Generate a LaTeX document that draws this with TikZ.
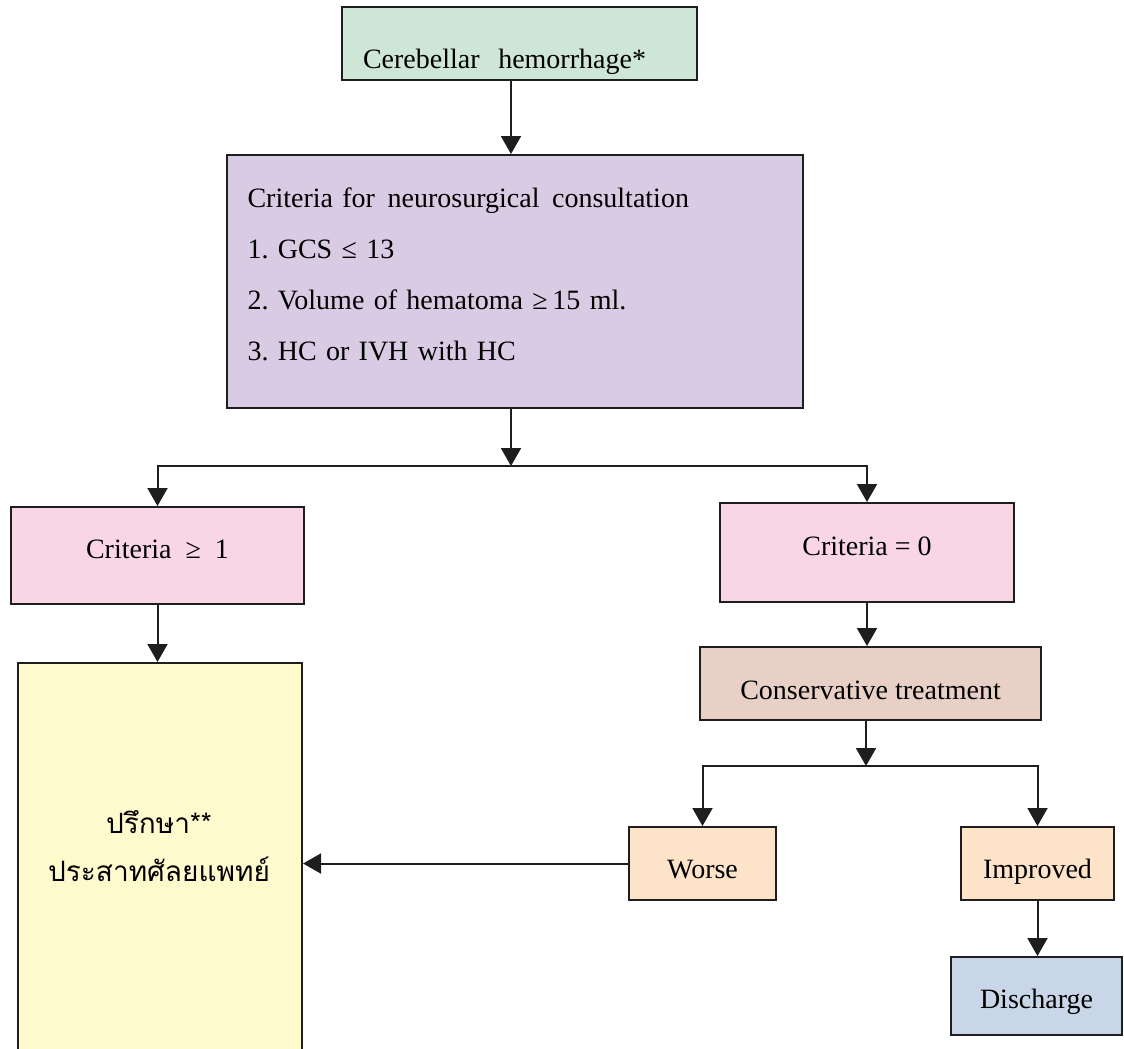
\documentclass[tikz,border=0pt]{standalone}
\usepackage{fontspec}
\setmainfont{Liberation Serif}
\newfontfamily\thaifont[Script=Thai]{Loma}
\usetikzlibrary{arrows.meta}
\frenchspacing

\definecolor{fillgreen}{RGB}{205,230,214}
\definecolor{fillpurple}{RGB}{217,203,228}
\definecolor{fillpink}{RGB}{249,214,230}
\definecolor{fillyellow}{RGB}{255,250,206}
\definecolor{fillrose}{RGB}{232,208,198}
\definecolor{fillpeach}{RGB}{253,227,200}
\definecolor{fillblue}{RGB}{201,214,232}
\definecolor{ink}{RGB}{30,30,30}

\begin{document}
\begin{tikzpicture}[x=1pt,y=-1pt,
  box/.style={draw=ink, line width=2pt, inner sep=0pt,
    font=\fontsize{28}{34}\selectfont},
  arr/.style={draw=ink, line width=2pt, -{Triangle[length=18pt,width=20pt]}},
  lowtext/.style={text height=29pt, text depth=0pt}]
\useasboundingbox (0,0) rectangle (1124,1049);

% top of the chart
\node[box, fill=fillgreen, minimum width=355pt, minimum height=73pt,
      text width=313pt, align=left, text height=49pt, text depth=0pt]
  (bleed) at (519.5,43.5) {Cerebellar\ \ hemorrhage*};

\node[box, fill=fillpurple, minimum width=576pt, minimum height=253pt,
      text width=534pt, align=left, text height=20pt, text depth=169pt,
      font=\fontsize{28}{51}\selectfont]
  (crit) at (514.5,281.5)
  {Criteria for\hspace{0.45em}neurosurgical\hspace{0.45em}consultation\\
   1. GCS ≤ 13\\
   2. Volume of hematoma ≥\,15 ml.\\
   3. HC or IVH with HC};

% the two branches
\node[box, fill=fillpink, minimum width=293pt, minimum height=97pt,
      text height=20pt, text depth=15pt]
  (many) at (157.5,555.5) {Criteria\ \ ≥\ \ 1};
\node[box, fill=fillpink, minimum width=294pt, minimum height=99pt,
      text height=20pt, text depth=15pt]
  (zero) at (867,552.5) {Criteria = 0};

% referral box, running off the lower edge, and its Thai text
\node[box, fill=fillyellow, minimum width=284pt, minimum height=390pt]
  (consult) at (160,858) {};
\node[align=center, inner sep=0pt, font=\thaifont\fontsize{28}{48}\selectfont]
  (consulttext) at (159,846) {ปรึกษา**\\ประสาทศัลยแพทย์};

\node[box, fill=fillrose, minimum width=341pt, minimum height=73pt,
      text height=31pt, text depth=0pt]
  (cons) at (870.5,683.5) {Conservative treatment};

\node[box, fill=fillpeach, minimum width=147pt, minimum height=73pt, lowtext]
  (worse) at (702.5,863.5) {Worse};
\node[box, fill=fillpeach, minimum width=153pt, minimum height=73pt, lowtext]
  (impr) at (1037.5,863.5) {Improved};
\node[box, fill=fillblue, minimum width=171pt, minimum height=78pt,
      text height=24pt, text depth=0pt]
  (disch) at (1036.5,996) {Discharge};

% junctions of the split lines
\coordinate (j1) at (511,466);
\coordinate (j2) at (866,766);

% connectors
\draw[arr] (bleed.south -| j1) -- (crit.north -| j1);
\draw[arr] (crit.south -| j1) -- (j1);
\draw[arr] (j1) -| (many.north);
\draw[arr] (j1) -| (zero.north);
\draw[arr] (many.south) -- (many.south |- consult.north);
\draw[arr] (zero.south) -- (zero.south |- cons.north);
\draw[arr] (cons.south -| j2) -- (j2);
\draw[arr] (j2) -| (worse.north);
\draw[arr] (j2) -| (impr.north);
\draw[arr] (impr.south) -- (impr.south |- disch.north);
\draw[arr] (worse.west) -- (worse.west -| consult.east);
\end{tikzpicture}
\end{document}
